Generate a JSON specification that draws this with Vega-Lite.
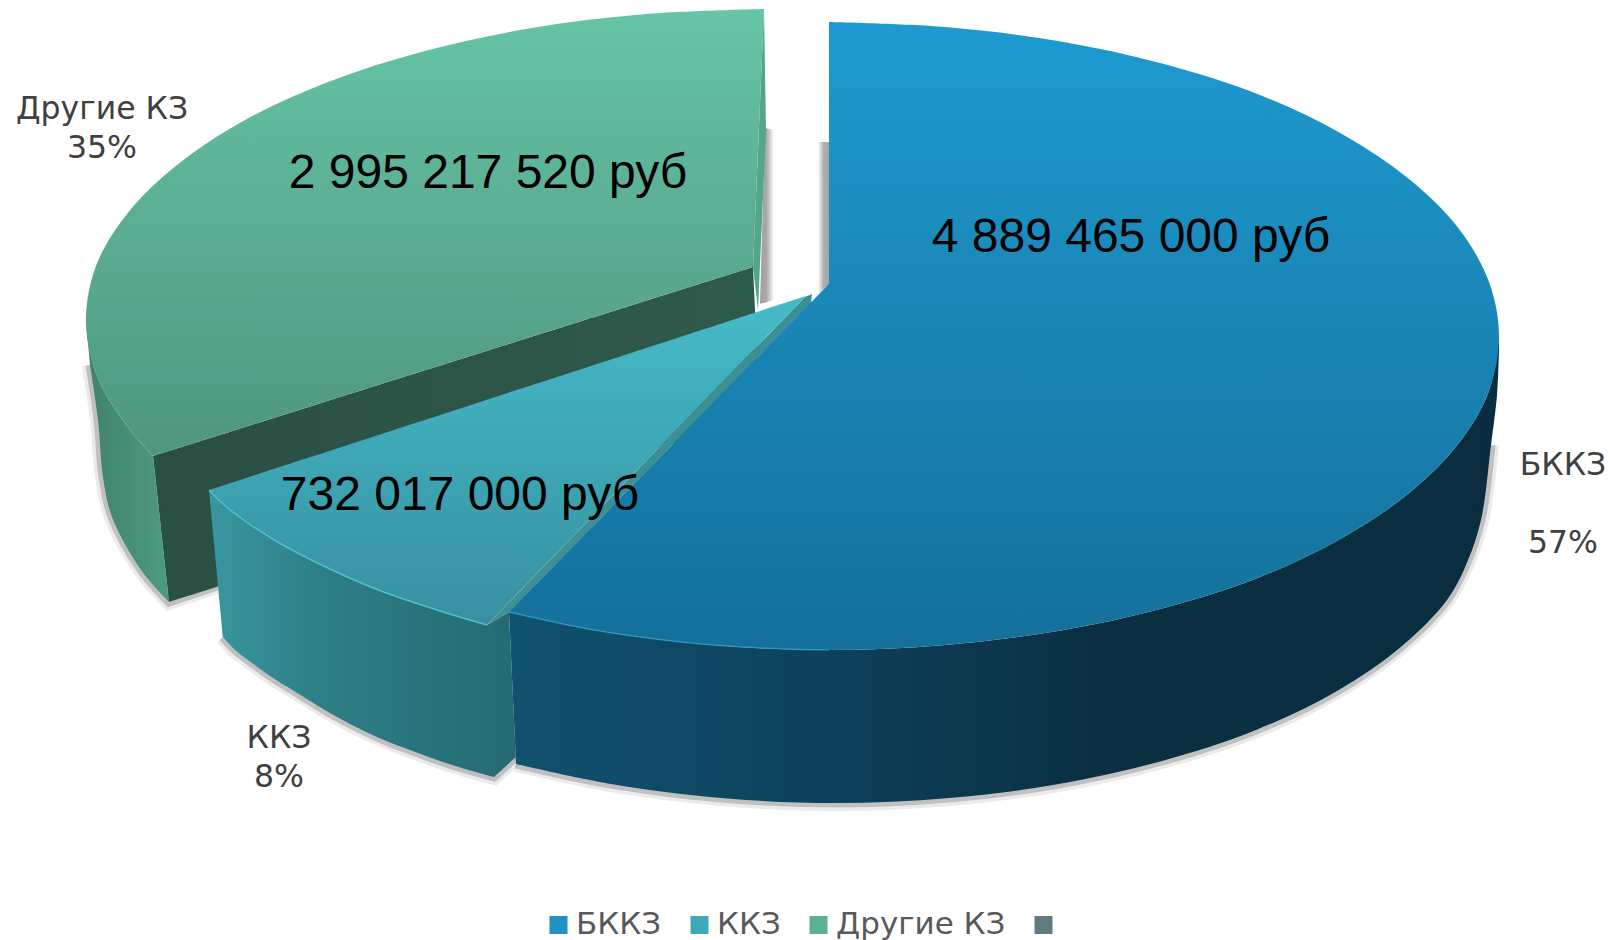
{"$schema":"https://vega.github.io/schema/vega-lite/v6.json","width":1608,"height":940,"padding":0,"autosize":"none","background":"white","config":{"view":{"stroke":null},"line":{"interpolate":"catmull-rom"},"text":{"font":"DejaVu Sans"}},
"datasets":{
"slices":[{"name":"БККЗ","value":4889465000,"label":"4 889 465 000 руб","lx":1131,"ly":252},{"name":"ККЗ","value":732017000,"label":"732 017 000 руб","lx":460,"ly":510},{"name":"Другие КЗ","value":2995217520,"label":"2 995 217 520 руб","lx":488,"ly":188},{"name":" ","value":0,"label":"","lx":0,"ly":0}],
"cats":[{"t":"БККЗ","x":1563,"y":475},{"t":"57%","x":1563,"y":553},{"t":"ККЗ","x":279,"y":748},{"t":"8%","x":279,"y":787},{"t":"Другие КЗ","x":102,"y":119},{"t":"35%","x":102,"y":158}],
"slotG":[{"x":765,"y":128},{"x":765,"y":128},{"x":774,"y":130},{"x":774,"y":130},{"x":774,"y":300},{"x":774,"y":300},{"x":760,"y":304},{"x":760,"y":304}],
"slotB":[{"x":818,"y":142},{"x":818,"y":142},{"x":829,"y":142},{"x":829,"y":142},{"x":829,"y":285},{"x":829,"y":285},{"x":818,"y":294},{"x":818,"y":294}],
"blueBottom":[{"x":1491,"y":445},{"x":1481,"y":520},{"x":1466,"y":565},{"x":1447,"y":600},{"x":1402,"y":646},{"x":1337,"y":691},{"x":1256,"y":730},{"x":1162,"y":761},{"x":1059,"y":784},{"x":949,"y":798},{"x":835,"y":803},{"x":721,"y":798},{"x":611,"y":784},{"x":516,"y":764}],
"tealBottom":[{"x":223,"y":637},{"x":235,"y":650},{"x":248,"y":660},{"x":270,"y":676},{"x":294,"y":691},{"x":330,"y":713},{"x":356,"y":727},{"x":384,"y":740},{"x":410,"y":750},{"x":437,"y":760},{"x":465,"y":769},{"x":494,"y":777},{"x":494,"y":777},{"x":516,"y":757}],
"greenBottom":[{"x":90,"y":365},{"x":98,"y":420},{"x":103,"y":477},{"x":112,"y":517},{"x":141,"y":570},{"x":169,"y":602},{"x":169,"y":602},{"x":217,"y":586}],
"greenSide":[{"x":86,"y":320},{"x":96,"y":374},{"x":127,"y":426},{"x":153,"y":456},{"x":153,"y":456},{"x":169,"y":602},{"x":169,"y":602},{"x":141,"y":570},{"x":112,"y":517},{"x":103,"y":477},{"x":98,"y":420},{"x":90,"y":365}],
"greenCut":[{"x":153,"y":456},{"x":153,"y":456},{"x":753,"y":267},{"x":753,"y":267},{"x":760,"y":416},{"x":760,"y":416},{"x":169,"y":602},{"x":169,"y":602}],
"greenTop":[{"x":764,"y":9},{"x":646,"y":14},{"x":532,"y":28},{"x":425,"y":51},{"x":328,"y":82},{"x":245,"y":120},{"x":177,"y":165},{"x":127,"y":214},{"x":96,"y":266},{"x":86,"y":320},{"x":96,"y":374},{"x":127,"y":426},{"x":153,"y":456},{"x":153,"y":456},{"x":753,"y":267},{"x":753,"y":267}],
"greenSliver":[{"x":764,"y":9},{"x":764,"y":9},{"x":766,"y":130},{"x":766,"y":130},{"x":758,"y":310},{"x":758,"y":310},{"x":753,"y":267},{"x":753,"y":267}],
"tealSide":[{"x":209,"y":490},{"x":209,"y":490},{"x":223,"y":637},{"x":223,"y":637},{"x":235,"y":650},{"x":248,"y":660},{"x":270,"y":676},{"x":294,"y":691},{"x":330,"y":713},{"x":356,"y":727},{"x":384,"y":740},{"x":410,"y":750},{"x":437,"y":760},{"x":465,"y":769},{"x":494,"y":777},{"x":494,"y":777},{"x":516,"y":757},{"x":516,"y":757},{"x":509,"y":612},{"x":509,"y":612},{"x":487,"y":625},{"x":487,"y":625},{"x":437,"y":610},{"x":381,"y":591},{"x":330,"y":569},{"x":276,"y":541},{"x":238,"y":516},{"x":222,"y":503}],
"tealTop":[{"x":209,"y":490},{"x":209,"y":490},{"x":806,"y":296},{"x":806,"y":296},{"x":487,"y":625},{"x":487,"y":625},{"x":437,"y":610},{"x":381,"y":591},{"x":330,"y":569},{"x":276,"y":541},{"x":238,"y":516},{"x":222,"y":503}],
"tealRim":[{"x":209,"y":490},{"x":222,"y":503},{"x":238,"y":516},{"x":276,"y":541},{"x":330,"y":569},{"x":381,"y":591},{"x":437,"y":610},{"x":487,"y":625}],
"tealSliver":[{"x":812,"y":294},{"x":812,"y":294},{"x":811,"y":303},{"x":811,"y":303},{"x":509,"y":612},{"x":509,"y":612},{"x":487,"y":625},{"x":487,"y":625},{"x":805,"y":297},{"x":805,"y":297}],
"blueSide":[{"x":509,"y":612},{"x":600,"y":631},{"x":713,"y":645},{"x":829,"y":650},{"x":945,"y":645},{"x":1058,"y":631},{"x":1164,"y":608},{"x":1260,"y":577},{"x":1342,"y":538},{"x":1409,"y":493},{"x":1459,"y":443},{"x":1489,"y":391},{"x":1499,"y":336},{"x":1499,"y":336},{"x":1499,"y":350},{"x":1499,"y":350},{"x":1497,"y":395},{"x":1491,"y":445},{"x":1481,"y":520},{"x":1466,"y":565},{"x":1447,"y":600},{"x":1402,"y":646},{"x":1337,"y":691},{"x":1256,"y":730},{"x":1162,"y":761},{"x":1059,"y":784},{"x":949,"y":798},{"x":835,"y":803},{"x":721,"y":798},{"x":611,"y":784},{"x":516,"y":764},{"x":516,"y":764}],
"blueTop":[{"x":829,"y":22},{"x":945,"y":27},{"x":1058,"y":41},{"x":1164,"y":64},{"x":1260,"y":95},{"x":1342,"y":134},{"x":1409,"y":179},{"x":1459,"y":229},{"x":1489,"y":282},{"x":1499,"y":336},{"x":1489,"y":391},{"x":1459,"y":443},{"x":1409,"y":493},{"x":1342,"y":538},{"x":1260,"y":577},{"x":1164,"y":608},{"x":1058,"y":631},{"x":945,"y":645},{"x":829,"y":650},{"x":713,"y":645},{"x":600,"y":631},{"x":509,"y":612},{"x":509,"y":612},{"x":829,"y":284},{"x":829,"y":284}],
"blueRim":[{"x":509,"y":612},{"x":600,"y":631},{"x":713,"y":645},{"x":829,"y":650}]
},
"encoding":{"x":{"field":"x","type":"quantitative","scale":{"domain":[0,1608],"nice":false,"zero":false},"axis":null},"y":{"field":"y","type":"quantitative","scale":{"domain":[940,0],"nice":false,"zero":false},"axis":null},"order":{"value":null}},
"layer":[
{"data":{"name":"slotG"},"mark":{"type":"line","stroke":null,"fill":{"gradient":"linear","x1":0,"y1":0,"x2":1,"y2":0,"stops":[{"offset":0,"color":"#a0a0a0"},{"offset":0.45,"color":"#a8a8a8"},{"offset":1,"color":"#ffffff"}]}}},
{"data":{"name":"slotB"},"mark":{"type":"line","stroke":null,"fill":{"gradient":"linear","x1":0,"y1":0,"x2":1,"y2":0,"stops":[{"offset":0,"color":"#ffffff"},{"offset":0.5,"color":"#b0b0b0"},{"offset":1,"color":"#a4a4a4"}]}}},
{"data":{"name":"blueBottom"},"mark":{"type":"line","stroke":"#000000","strokeWidth":16,"opacity":0.08}},
{"data":{"name":"blueBottom"},"mark":{"type":"line","stroke":"#000000","strokeWidth":9,"opacity":0.18}},
{"data":{"name":"tealBottom"},"mark":{"type":"line","stroke":"#000000","strokeWidth":16,"opacity":0.08}},
{"data":{"name":"tealBottom"},"mark":{"type":"line","stroke":"#000000","strokeWidth":9,"opacity":0.18}},
{"data":{"name":"greenBottom"},"mark":{"type":"line","stroke":"#000000","strokeWidth":16,"opacity":0.08}},
{"data":{"name":"greenBottom"},"mark":{"type":"line","stroke":"#000000","strokeWidth":9,"opacity":0.18}},
{"data":{"name":"greenSide"},"mark":{"type":"line","stroke":null,"fill":{"gradient":"linear","x1":0,"y1":0,"x2":1,"y2":0,"stops":[{"offset":0,"color":"#40826c"},{"offset":1,"color":"#4e9a81"}]}}},
{"data":{"name":"greenCut"},"mark":{"type":"line","stroke":null,"fill":{"gradient":"linear","x1":0,"y1":0,"x2":1,"y2":0,"stops":[{"offset":0,"color":"#2a4f43"},{"offset":1,"color":"#2e5a4c"}]}}},
{"data":{"name":"greenSliver"},"mark":{"type":"line","stroke":null,"fill":"#55a58b"}},
{"data":{"name":"greenTop"},"mark":{"type":"line","stroke":null,"fill":{"gradient":"linear","x1":0,"y1":0,"x2":0,"y2":1,"stops":[{"offset":0,"color":"#66c4a7"},{"offset":1,"color":"#4f967f"}]}}},
{"data":{"name":"tealSide"},"mark":{"type":"line","stroke":null,"fill":{"gradient":"linear","x1":0,"y1":0,"x2":1,"y2":0,"stops":[{"offset":0,"color":"#38979f"},{"offset":0.4,"color":"#2d7d85"},{"offset":1,"color":"#256a72"}]}}},
{"data":{"name":"tealSliver"},"mark":{"type":"line","stroke":null,"fill":"#3c8f94"}},
{"data":{"name":"tealTop"},"mark":{"type":"line","stroke":null,"fill":{"gradient":"linear","x1":0,"y1":0,"x2":0,"y2":1,"stops":[{"offset":0,"color":"#45bbc9"},{"offset":1,"color":"#37909f"}]}}},
{"data":{"name":"tealRim"},"mark":{"type":"line","stroke":"#4cc0cf","strokeWidth":1.5}},
{"data":{"name":"blueSide"},"mark":{"type":"line","stroke":null,"fill":{"gradient":"linear","x1":0,"y1":0,"x2":1,"y2":0,"stops":[{"offset":0,"color":"#10526f"},{"offset":0.35,"color":"#0d3f58"},{"offset":0.6,"color":"#0a2f41"},{"offset":1,"color":"#0a2e40"}]}}},
{"data":{"name":"blueTop"},"mark":{"type":"line","stroke":null,"fill":{"gradient":"linear","x1":0,"y1":0,"x2":0,"y2":1,"stops":[{"offset":0,"color":"#1e9ad0"},{"offset":1,"color":"#14709a"}]}}},
{"data":{"name":"blueRim"},"mark":{"type":"line","stroke":"#2a9fd0","strokeWidth":1.5,"opacity":0.7}},
{"data":{"name":"slices"},"transform":[{"filter":"datum.value>0"}],"mark":{"type":"text","font":"Liberation Sans","fontSize":48,"fill":"#000000","align":"center","baseline":"alphabetic"},"encoding":{"x":{"field":"lx","type":"quantitative"},"y":{"field":"ly","type":"quantitative"},"text":{"field":"label"}}},
{"data":{"name":"cats"},"mark":{"type":"text","font":"DejaVu Sans","fontSize":31.5,"fill":"#404040","align":"center","baseline":"alphabetic"},"encoding":{"text":{"field":"t"}}},
{"data":{"name":"slices"},"mark":{"type":"point","filled":true,"size":0},"encoding":{"x":{"field":"lx","type":"quantitative"},"y":{"field":"ly","type":"quantitative"},"fill":{"field":"name","type":"nominal","sort":null,"scale":{"domain":["БККЗ","ККЗ","Другие КЗ"," "],"range":["#2190c4","#3ea9b8","#5bb096","#5f7c82"]},"legend":{"title":null,"orient":"none","legendX":543,"legendY":907,"direction":"horizontal","columns":4,"symbolType":"square","symbolSize":324,"symbolOpacity":1,"symbolStrokeWidth":0,"labelFont":"DejaVu Sans","labelFontSize":31,"labelColor":"#595959","labelOffset":2,"columnPadding":22,"labelLimit":400,"clipHeight":36,"symbolOffset":0,"encoding":{"symbols":{"update":{"fill":{"signal":"{gradient:'linear',x1:0,y1:0,x2:0,y2:1,stops:[{offset:0,color:datum.value=='БККЗ'?'#5fd4f5':datum.value=='ККЗ'?'#6fe3f0':datum.value=='Другие КЗ'?'#8fe8c9':'#a8c4c8'},{offset:0.4,color:datum.value=='БККЗ'?'#2190c4':datum.value=='ККЗ'?'#3ea9b8':datum.value=='Другие КЗ'?'#5bb096':'#6b8a90'},{offset:1,color:datum.value=='БККЗ'?'#14709a':datum.value=='ККЗ'?'#2f8a97':datum.value=='Другие КЗ'?'#45907a':'#4f6a70'}]}"}}}}}}}}
]}
